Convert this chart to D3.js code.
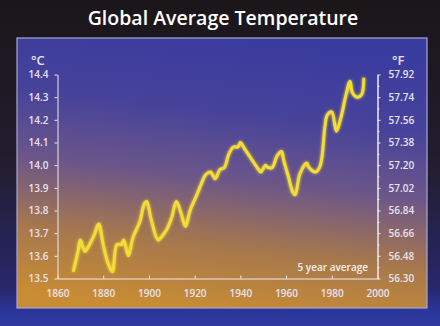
<!DOCTYPE html>
<html>
<head>
<meta charset="utf-8">
<script src="https://cdn.jsdelivr.net/npm/d3@7"></script>
<style>
  html, body { margin: 0; padding: 0; background: #1c1820; }
  svg { display: block; }
  text { font-family: "Open Sans", "Noto Sans", sans-serif; }
</style>
</head>
<body>
<svg id="chart" width="440" height="326"></svg>
<script>
// Five-year running mean of global surface temperature (°C)
const years = [1867, 1869, 1870, 1872, 1874, 1876, 1878, 1880, 1882, 1884,
  1886, 1888, 1889, 1891, 1893, 1896, 1898, 1899, 1901, 1904,
  1906, 1908, 1910, 1912, 1914, 1916, 1918, 1921, 1923, 1925,
  1927, 1929, 1931, 1933, 1935, 1937, 1939, 1940, 1942, 1944,
  1946, 1948, 1949, 1951, 1952, 1954, 1956, 1958, 1959, 1961,
  1963, 1964, 1966, 1969, 1970, 1973, 1975, 1977, 1978, 1980,
  1982, 1984, 1986, 1988, 1989, 1991, 1993, 1994];
const tempC = [13.535, 13.62, 13.67, 13.62, 13.65, 13.69, 13.74, 13.65, 13.57, 13.53,
  13.65, 13.65, 13.67, 13.60, 13.68, 13.75, 13.83, 13.84, 13.76, 13.67,
  13.69, 13.72, 13.77, 13.84, 13.79, 13.73, 13.80, 13.87, 13.92, 13.96,
  13.97, 13.94, 13.98, 13.99, 14.05, 14.08, 14.08, 14.10, 14.07, 14.04,
  14.01, 13.98, 13.97, 14.00, 13.99, 13.99, 14.04, 14.06, 14.02, 13.95,
  13.88, 13.87, 13.96, 14.01, 13.99, 13.97, 14.00, 14.17, 14.22, 14.235,
  14.15, 14.21, 14.30, 14.37, 14.32, 14.30, 14.31, 14.38];

const yearTicks = [1860, 1880, 1900, 1920, 1940, 1960, 1980, 2000];
const celsiusTicks = [13.5, 13.6, 13.7, 13.8, 13.9, 14.0, 14.1, 14.2, 14.3, 14.4];
const fahrenheitTicks = ["56.30", "56.48", "56.66", "56.84", "57.02", "57.20", "57.38", "57.56", "57.74", "57.92"];

const title = "Global Average Temperature";
const legendLabel = "5 year average";

const svg = d3.select("#chart");
const defs = svg.append("defs");

// outer backdrop: near-black above, blue strip below the panel
const bg = defs.append("linearGradient").attr("id", "bg")
  .attr("x1", 0).attr("y1", 0).attr("x2", 0).attr("y2", 1);
bg.append("stop").attr("offset", 0).attr("stop-color", "#1a1619");
bg.append("stop").attr("offset", 0.5).attr("stop-color", "#221d2f");
bg.append("stop").attr("offset", 0.88).attr("stop-color", "#28276a");
bg.append("stop").attr("offset", 0.95).attr("stop-color", "#2b3596");
bg.append("stop").attr("offset", 1).attr("stop-color", "#2e3aa0");

// panel: blue at the top turning amber toward the bottom
const pg = defs.append("linearGradient").attr("id", "panel")
  .attr("x1", 0.58).attr("y1", 0).attr("x2", 0.42).attr("y2", 1);
pg.append("stop").attr("offset", 0).attr("stop-color", "#3a3b9f");
pg.append("stop").attr("offset", 0.28).attr("stop-color", "#47439a");
pg.append("stop").attr("offset", 0.52).attr("stop-color", "#6c5689");
pg.append("stop").attr("offset", 0.76).attr("stop-color", "#a5774e");
pg.append("stop").attr("offset", 1).attr("stop-color", "#c88c34");

const glow = defs.append("filter").attr("id", "glow")
  .attr("x", "-10%").attr("y", "-10%").attr("width", "120%").attr("height", "120%");
glow.append("feGaussianBlur").attr("in", "SourceGraphic").attr("stdDeviation", 1.4).attr("result", "b");
const merge = glow.append("feMerge");
merge.append("feMergeNode").attr("in", "b");
merge.append("feMergeNode").attr("in", "SourceGraphic");

svg.append("rect").attr("width", 440).attr("height", 326).attr("fill", "url(#bg)");

svg.append("rect")
  .attr("x", 17).attr("y", 38).attr("width", 410).attr("height", 270)
  .attr("fill", "url(#panel)")
  .attr("stroke", "#a9a6d6").attr("stroke-width", 1.2);

svg.append("text")
  .attr("x", 223).attr("y", 25)
  .attr("text-anchor", "middle")
  .attr("fill", "#ffffff")
  .attr("font-size", 19.5).attr("font-weight", 600)
  .text(title);

const x = d3.scaleLinear().domain([1860, 2000]).range([57.5, 377.5]);
const yC = d3.scaleLinear().domain([13.5, 14.4]).range([278.5, 74.5]);
const yF = d3.scaleLinear().domain([56.30, 57.92]).range([278.5, 74.5]);

const axisColor = "#efe9ee";
const labelColor = "#e8e3ef";

function styleAxis(g) {
  g.selectAll("path.domain").attr("stroke", axisColor).attr("stroke-width", 1);
  g.selectAll(".tick line").attr("stroke", axisColor).attr("stroke-width", 1);
  g.selectAll(".tick text").attr("fill", labelColor)
    .attr("font-size", 10).attr("font-weight", 600)
    .attr("font-family", "'Open Sans', 'Noto Sans', sans-serif");
}

// left °C axis
svg.append("g").attr("transform", "translate(57.5,0)")
  .call(d3.axisLeft(yC).tickValues(celsiusTicks).tickFormat(d3.format(".1f"))
    .tickSizeInner(3).tickSizeOuter(0).tickPadding(6))
  .call(styleAxis);

// right °F axis with half-step minor ticks
const minorF = d3.range(0, 9).map(i => 56.39 + i * 0.18);
svg.append("g").attr("transform", "translate(377.5,0)")
  .call(d3.axisRight(yF).tickValues(minorF).tickFormat("").tickSizeInner(2).tickSizeOuter(0))
  .call(styleAxis);
svg.append("g").attr("transform", "translate(377.5,0)")
  .call(d3.axisRight(yF).tickValues(fahrenheitTicks.map(Number))
    .tickFormat(d => fahrenheitTicks.find(t => +t === d))
    .tickSizeInner(3).tickSizeOuter(0).tickPadding(8))
  .call(styleAxis);

// bottom year axis, ticks pointing up
svg.append("g").attr("transform", "translate(0,278.5)")
  .call(d3.axisBottom(x).tickValues(yearTicks).tickFormat(d3.format("d"))
    .tickSizeInner(-3).tickSizeOuter(0).tickPadding(11))
  .call(styleAxis);

// unit labels
svg.append("text").attr("x", 31).attr("y", 65)
  .attr("fill", labelColor).attr("font-size", 13).attr("font-weight", 600)
  .text("°C");
svg.append("text").attr("x", 392).attr("y", 65)
  .attr("fill", labelColor).attr("font-size", 13).attr("font-weight", 600)
  .text("°F");

// temperature line
const pts = years.map((yr, i) => [yr, tempC[i]]);
const line = d3.line()
  .x(d => x(d[0])).y(d => yC(d[1]))
  .curve(d3.curveCatmullRom.alpha(0.5));

svg.append("path").datum(pts)
  .attr("d", line)
  .attr("fill", "none")
  .attr("stroke", "#f3dc34")
  .attr("stroke-width", 3)
  .attr("stroke-linejoin", "round")
  .attr("stroke-linecap", "round")
  .attr("filter", "url(#glow)");

svg.append("text").attr("x", 368).attr("y", 271)
  .attr("text-anchor", "end")
  .attr("fill", "#f6f1ea").attr("font-size", 10).attr("font-weight", 600)
  .text(legendLabel);
</script>
</body>
</html>
